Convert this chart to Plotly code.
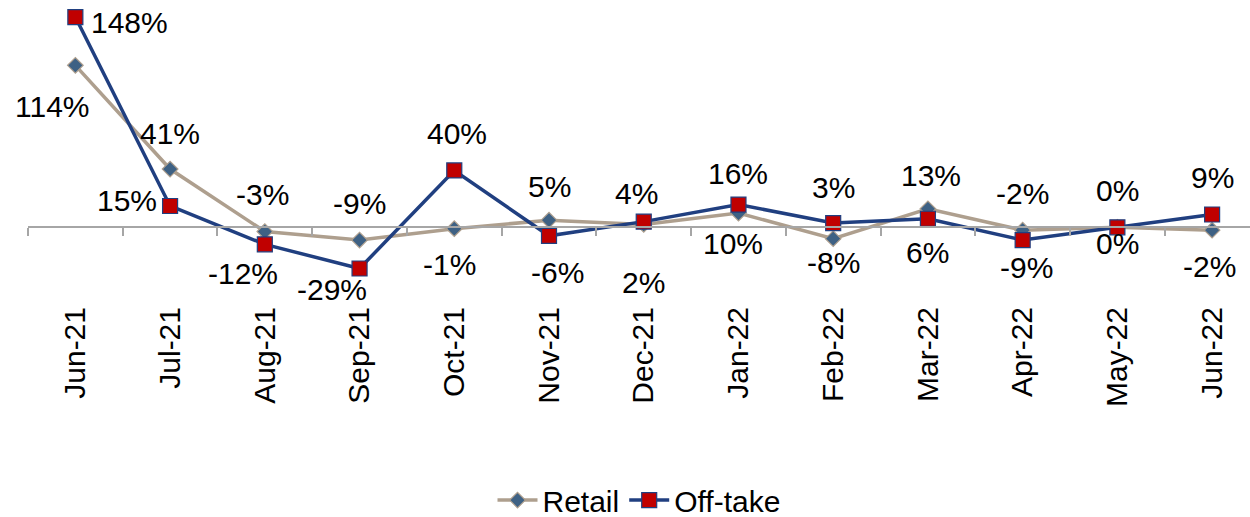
import plotly.graph_objects as go

months = ["Jun-21", "Jul-21", "Aug-21", "Sep-21", "Oct-21", "Nov-21", "Dec-21",
          "Jan-22", "Feb-22", "Mar-22", "Apr-22", "May-22", "Jun-22"]
retail = [114, 41, -3, -9, -1, 5, 2, 10, -8, 13, -2, 0, -2]
offtake = [148, 15, -12, -29, 40, -6, 4, 16, 3, 6, -9, 0, 9]

# label offsets in pixels (style only)
retail_dx = [-23, 0, -2, 0, -5, 0, 0, -5, 0, 3, 0, 0, -3]
retail_dy = [-41, 36, 37, 37, -36, 34, -58, -30, -24, 33, 37, -16, -36]
off_dx = [54, -43, -22, -28, 3, 8, -7, 0, 0, 0, 4, 0, 0]
off_dy = [-5, 5, -29, -21, 37, -37, 28, 31, 36, -34, -27, 37, 37]

FONT = "Liberation Sans, Arial, sans-serif"
TAN = "#ae9f8e"
NAVY = "#203f80"

fig = go.Figure()
# invisible trace carrying the zero axis
fig.add_trace(go.Scatter(x=months, y=[None] * len(months), xaxis="x2", yaxis="y",
                         showlegend=False, hoverinfo="skip", mode="lines"))
fig.add_trace(go.Scatter(
    x=months, y=retail, name="Retail", mode="lines+markers",
    line=dict(color=TAN, width=3.5),
    marker=dict(symbol="diamond", size=12, color="#3e6184", line=dict(color=TAN, width=1.2)),
    cliponaxis=False))
fig.add_trace(go.Scatter(
    x=months, y=offtake, name="Off-take", mode="lines+markers",
    line=dict(color=NAVY, width=3.5),
    marker=dict(symbol="square", size=15, color="#c00000", line=dict(color=NAVY, width=1.2)),
    cliponaxis=False))

ann = []
for i, m in enumerate(months):
    ann.append(dict(x=m, y=retail[i], text=f"{retail[i]}%", showarrow=False,
                    xshift=retail_dx[i], yshift=retail_dy[i],
                    xanchor="center", yanchor="middle",
                    font=dict(family=FONT, size=30, color="#000000")))
    ann.append(dict(x=m, y=offtake[i], text=f"{offtake[i]}%", showarrow=False,
                    xshift=off_dx[i], yshift=off_dy[i],
                    xanchor="center", yanchor="middle",
                    font=dict(family=FONT, size=30, color="#000000")))

ymin, ymax = -54, 160
fig.update_layout(
    width=1250, height=517,
    margin=dict(l=28, r=0, t=0, b=213, autoexpand=False),
    paper_bgcolor="white", plot_bgcolor="white",
    font=dict(family=FONT, size=30, color="#000000"),
    xaxis=dict(type="category", range=[-0.5, 12.4], showgrid=False, showline=False,
               ticks="", tickangle=-90, tickfont=dict(size=30, family=FONT, color="#000000"),
               ticklabelstandoff=-4,
               zeroline=False, automargin=False),
    xaxis2=dict(type="category", overlaying="x", matches="x", anchor="free",
                position=(0 - ymin) / (ymax - ymin), showline=True, linecolor="#a6a6a6",
                linewidth=1.5, ticks="outside", tickson="boundaries", ticklen=8,
                tickcolor="#a6a6a6", tickwidth=1.5, showticklabels=False, showgrid=False,
                zeroline=False, side="bottom", automargin=False),
    yaxis=dict(range=[ymin, ymax], showgrid=False, showline=False, showticklabels=False,
               ticks="", zeroline=False, automargin=False),
    legend=dict(orientation="h", x=0.5, xanchor="center", y=-0.645, yanchor="middle",
                itemwidth=40,
                font=dict(size=30, family=FONT, color="#000000"), bgcolor="rgba(0,0,0,0)"),
    annotations=ann,
)

fig.write_html("out.html", config={"displayModeBar": False},
               post_script="document.body.style.margin='0';document.body.style.overflow='hidden';")
